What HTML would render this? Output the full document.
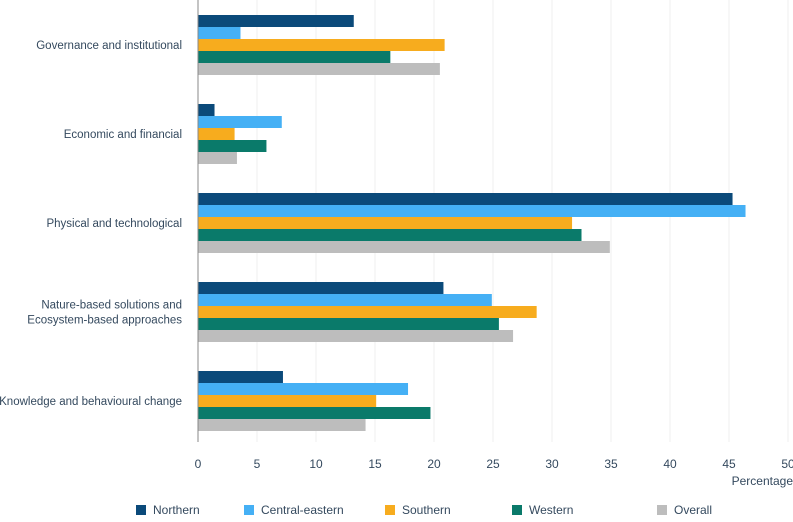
<!DOCTYPE html>
<html><head><meta charset="utf-8"><style>
body{margin:0;background:#fff;width:793px;height:517px;overflow:hidden;font-family:"Liberation Sans",sans-serif}
svg text{font-family:"Liberation Sans",sans-serif;fill:#34495e}
</style></head><body>
<svg id="c" width="793" height="517"></svg>
<script>
const categories=["Governance and institutional","Economic and financial","Physical and technological","Nature-based solutions and|Ecosystem-based approaches","Knowledge and behavioural change"];
const seriesNames=["Northern","Central-eastern","Southern","Western","Overall"];
const northern=[13.2,1.4,45.3,20.8,7.2];
const centralEastern=[3.6,7.1,46.4,24.9,17.8];
const southern=[20.9,3.1,31.7,28.7,15.1];
const western=[16.3,5.8,32.5,25.5,19.7];
const overall=[20.5,3.3,34.9,26.7,14.2];
const ticks=[0,5,10,15,20,25,30,35,40,45,50];
const colors=["#0b4a7a","#45b0f5","#f7ac1e","#0a7a6a","#bdbdbd"];
const series=[northern,centralEastern,southern,western,overall];
const svg=document.getElementById('c');const NS="http://www.w3.org/2000/svg";
function x(v){return 198+v*11.8;}
function mk(t,a,p){const e=document.createElementNS(NS,t);for(const k in a)e.setAttribute(k,a[k]);(p||svg).appendChild(e);return e;}
ticks.forEach(t=>{
 if(t>0){const g=mk('line',{x1:x(t),x2:x(t),y1:0,y2:442,stroke:'#efefef','stroke-width':1});
 
 }
 const l=mk('text',{x:x(t),y:468,'text-anchor':'middle','font-size':12});l.textContent=t;
 
 
});
categories.forEach((c,i)=>{
 const top=15+i*89;
 series.forEach((s,j)=>{
  const r=mk('rect',{x:x(0),y:top+j*12,width:x(s[i])-x(0),height:12,fill:colors[j]});
  
  
 });
 const parts=c.split('|');const cy=top+30;
 parts.forEach((p,k)=>{
  const t=mk('text',{x:182,y:cy+4+(k-(parts.length-1)/2)*15,'text-anchor':'end','font-size':11.5});t.textContent=p;
  
  
 });
});
const ax=mk('line',{x1:198,x2:198,y1:0,y2:442,stroke:'#888','stroke-width':1});


const xt=mk('text',{x:793,y:485,'text-anchor':'end','font-size':12});xt.textContent='Percentage';


const lx=[136,244,385,512,657];
seriesNames.forEach((n,j)=>{
 const r=mk('rect',{x:lx[j],y:505,width:10,height:10,fill:colors[j]});
 
 
 const t=mk('text',{x:lx[j]+17,y:514,'font-size':12});t.textContent=n;
 
 
});
</script>
</body></html>
